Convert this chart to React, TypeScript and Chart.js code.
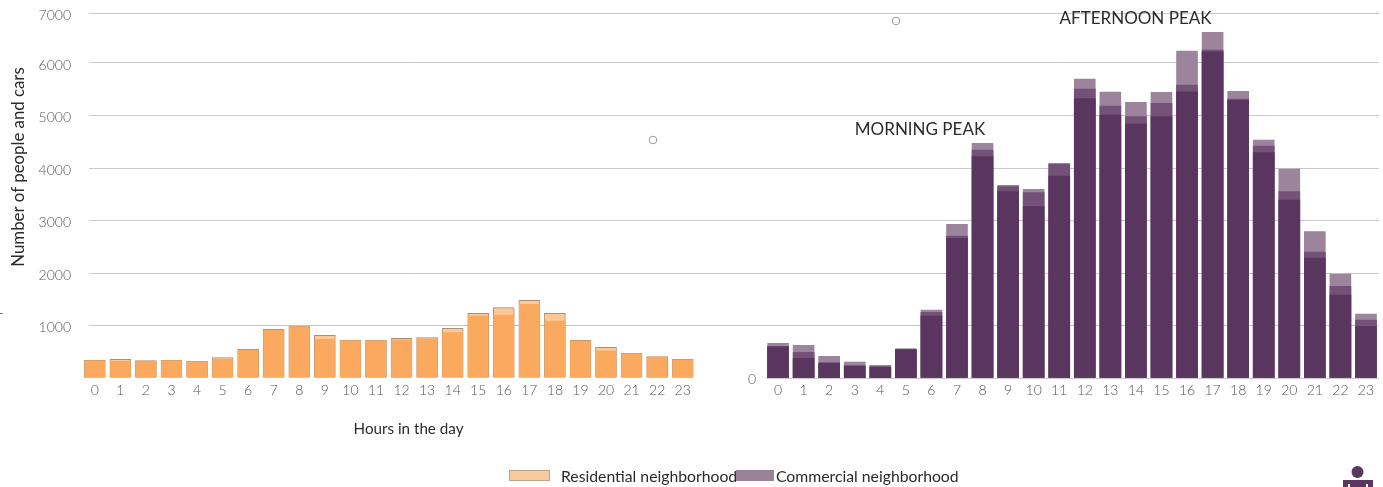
import React, { useEffect, useRef } from "react";
import { Chart, registerables } from "chart.js";

Chart.register(...registerables);

const hours = [0, 1, 2, 3, 4, 5, 6, 7, 8, 9, 10, 11, 12, 13, 14, 15, 16, 17, 18, 19, 20, 21, 22, 23];

// Residential neighborhood: outer total and inner core per hour
const residentialTotal = [337, 356, 330, 337, 318, 387, 547, 928, 990, 813, 718, 718, 756, 768, 947, 1232, 1339, 1480, 1232, 718, 585, 470, 406, 356];
const residentialCore = [330, 318, 320, 330, 312, 356, 530, 915, 975, 737, 710, 710, 724, 743, 863, 1181, 1200, 1404, 1086, 705, 514, 462, 398, 345];

// Commercial neighborhood: three overlaid levels per hour
const commercialTop = [660, 622, 413, 305, 241, 559, 1295, 2927, 4470, 3670, 3594, 4089, 5695, 5448, 5251, 5441, 6229, 6585, 5460, 4533, 3981, 2787, 1981, 1219];
const commercialMid = [597, 489, 286, 229, 210, 540, 1251, 2705, 4343, 3644, 3530, 4070, 5505, 5181, 4978, 5232, 5581, 6248, 5314, 4419, 3549, 2400, 1746, 1105];
const commercialCore = [597, 375, 286, 229, 210, 540, 1181, 2660, 4216, 3549, 3263, 3848, 5320, 5010, 4838, 4978, 5453, 6215, 5290, 4292, 3390, 2286, 1581, 980];

// The commercial panel shares the axis with the residential one, shifted along x
const PANEL_SHIFT = 26.73;
const yTickValues = [0, 1000, 2000, 3000, 4000, 5000, 6000, 6935];
const legendItems = [
  { label: "Residential neighborhood", fill: "#f9c99e", stroke: "#b9a48f" },
  { label: "Commercial neighborhood", fill: "#9a8299", stroke: "#9a8299" },
];

const TICK_FONT = { family: "Lato", size: 14, weight: "300" as const };
const TEXT_DARK = "#2b2b2b";
const TICK_COLOR = "#555";

const residentialSeries = (values: number[]) => hours.map((h, i) => ({ x: h, y: values[i] }));
const commercialSeries = (values: number[]) => hours.map((h, i) => ({ x: h + PANEL_SHIFT, y: values[i] }));

const overlayPlugin = {
  id: "overlay",
  afterDraw(chart: any) {
    const { ctx, scales } = chart;
    const base = scales.y.getPixelForValue(0);
    ctx.save();

    // Baseline under the commercial panel
    ctx.strokeStyle = "#c8c8c8";
    ctx.lineWidth = 1;
    ctx.beginPath();
    ctx.moveTo(766, base + 0.5);
    ctx.lineTo(chart.chartArea.right, base + 0.5);
    ctx.stroke();

    // Zero label beside the commercial panel
    ctx.fillStyle = TICK_COLOR;
    ctx.font = "300 14px Lato";
    ctx.textAlign = "center";
    ctx.textBaseline = "middle";
    ctx.fillText("0", 752, base + 1);

    // Peak annotations and the axis titles
    ctx.fillStyle = TEXT_DARK;
    ctx.font = "17px Lato";
    ctx.fillText("MORNING PEAK", 920, 130);
    ctx.fillText("AFTERNOON PEAK", 1135.5, 19);
    ctx.font = "15.2px Lato";
    ctx.fillText("Hours in the day", 408.5, 429);
    ctx.save();
    ctx.translate(19, 167);
    ctx.rotate(-Math.PI / 2);
    ctx.font = "16.8px Lato";
    ctx.fillText("Number of people and cars", 0, 0);
    ctx.restore();

    // Small stray markers
    ctx.strokeStyle = "#999";
    ctx.fillStyle = "#fff";
    for (const [cx, cy] of [[653, 140], [896, 21]]) {
      ctx.beginPath();
      ctx.arc(cx, cy, 3.8, 0, Math.PI * 2);
      ctx.fill();
      ctx.stroke();
    }
    ctx.strokeStyle = "#777";
    ctx.beginPath();
    ctx.moveTo(0, 313.5);
    ctx.lineTo(3, 313.5);
    ctx.stroke();

    // Corner emblem
    ctx.fillStyle = "#5b3660";
    ctx.beginPath();
    ctx.arc(1357.5, 472, 6, 0, Math.PI * 2);
    ctx.fill();
    ctx.fillRect(1343, 480, 30, 7);
    ctx.fillStyle = "#fff";
    ctx.fillRect(1348, 484, 2, 3);
    ctx.fillRect(1366, 484, 2, 3);
    ctx.restore();
  },
};

export default function App() {
  const canvasRef = useRef<HTMLCanvasElement | null>(null);

  useEffect(() => {
    const chart = new Chart(canvasRef.current as HTMLCanvasElement, {
      type: "bar",
      data: {
        datasets: [
          { label: "Residential core", data: residentialSeries(residentialCore), backgroundColor: "#fba95f", barThickness: 20 },
          { label: "Residential neighborhood", data: residentialSeries(residentialTotal), backgroundColor: "#fcc896", borderColor: "#a98f78", borderWidth: 1, barThickness: 21 },
          { label: "Commercial core", data: commercialSeries(commercialCore), backgroundColor: "#5a3560", barThickness: 21 },
          { label: "Commercial middle", data: commercialSeries(commercialMid), backgroundColor: "#745277", barThickness: 21 },
          { label: "Commercial neighborhood", data: commercialSeries(commercialTop), backgroundColor: "#9c859c", barThickness: 21 },
        ],
      } as any,
      options: {
        responsive: false,
        animation: false,
        parsing: { xAxisKey: "x", yAxisKey: "y" },
        layout: { padding: { right: 4 } },
        plugins: { legend: { display: false }, tooltip: { enabled: false } },
        datasets: { bar: { grouped: false, clip: false } },
        scales: {
          x: {
            type: "linear",
            offset: false,
            min: -0.227,
            max: 50.24,
            grid: { display: false, drawTicks: false },
            border: { display: false },
            afterFit: (scale: any) => {
              scale.height = 109;
              scale.paddingLeft = 0;
              scale.paddingRight = 0;
            },
            afterBuildTicks: (scale: any) => {
              scale.ticks = [...hours, ...hours.map((h) => h + PANEL_SHIFT)].map((value) => ({ value }));
            },
            ticks: {
              autoSkip: false,
              maxRotation: 0,
              minRotation: 0,
              padding: 4,
              color: TICK_COLOR,
              font: TICK_FONT,
              callback: (value: any) => String(value >= PANEL_SHIFT ? Math.round(value - PANEL_SHIFT) : value),
            },
          },
          y: {
            type: "linear",
            min: 0,
            max: 7200,
            border: { display: false },
            grid: {
              drawTicks: false,
              color: (c: any) => (c.tick.value === 0 ? "rgba(0,0,0,0)" : "#c9c9c9"),
            },
            afterFit: (scale: any) => {
              scale.width = 89;
              scale.paddingTop = 0;
              scale.paddingBottom = 0;
            },
            afterBuildTicks: (scale: any) => {
              scale.ticks = yTickValues.map((value) => ({ value }));
            },
            ticks: {
              padding: 18,
              labelOffset: 2,
              color: TICK_COLOR,
              font: TICK_FONT,
              callback: (value: any) => (value === 0 ? "" : String(Math.round(value / 1000) * 1000)),
            },
          },
        },
      } as any,
      plugins: [overlayPlugin],
    });
    return () => chart.destroy();
  }, []);

  return (
    <div style={{ position: "absolute", left: 0, top: 0, width: 1383, height: 487, overflow: "hidden", background: "#fff" }}>
      <canvas ref={canvasRef} width={1383} height={487} style={{ display: "block" }} />
      {legendItems.map((item, i) => (
        <React.Fragment key={item.label}>
          <div
            style={{
              position: "absolute",
              left: i === 0 ? 509 : 736,
              top: 470,
              width: i === 0 ? 41 : 38,
              height: 11,
              background: item.fill,
              border: `1px solid ${item.stroke}`,
              boxSizing: "border-box",
            }}
          />
          <div
            style={{
              position: "absolute",
              left: i === 0 ? 561 : 776,
              top: 467,
              font: "15.75px Lato",
              lineHeight: "18px",
              color: TEXT_DARK,
              whiteSpace: "nowrap",
            }}
          >
            {item.label}
          </div>
        </React.Fragment>
      ))}
    </div>
  );
}
